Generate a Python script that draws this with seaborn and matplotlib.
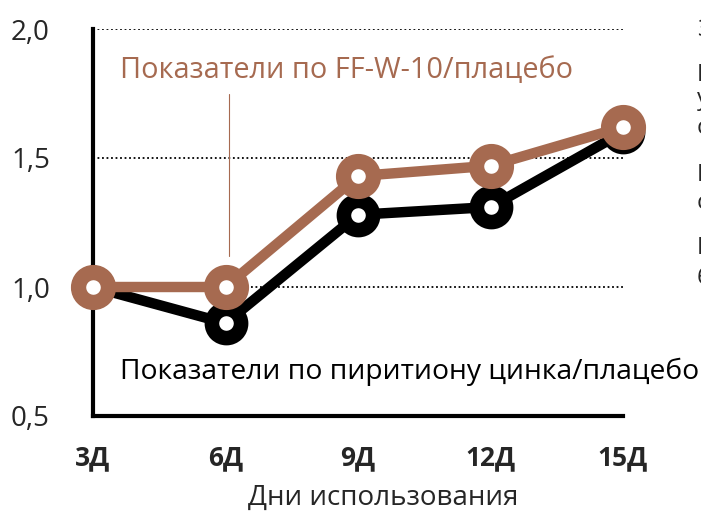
import pandas as pd
import matplotlib.pyplot as plt
import seaborn as sns

# данные
days = [3, 6, 9, 12, 15]
day_labels = ['3Д', '6Д', '9Д', '12Д', '15Д']
zinc = [1.0, 0.86, 1.28, 1.31, 1.60]
ffw10 = [1.0, 1.0, 1.43, 1.47, 1.62]
y_ticks = [0.5, 1.0, 1.5, 2.0]
y_labels = ['0,5', '1,0', '1,5', '2,0']
side_text = [('З', 30), ('Р', 75), ('у', 99), ('с', 128), ('Р', 175),
             ('с', 203), ('Н', 248), ('6', 278)]

brown = '#A66A50'

sns.set_style('white')
plt.rcParams['font.family'] = ['Open Sans', 'DejaVu Sans']

df = pd.DataFrame({'day': days + days,
                   'value': zinc + ffw10,
                   'series': ['zinc'] * 5 + ['ffw'] * 5})

fig = plt.figure(figsize=(7.01, 5.12), dpi=100)
ax = fig.add_axes([93 / 701, 1 - 416 / 512, 530 / 701, 387 / 512])

# сетка
for y in [1.0, 1.5, 2.0]:
    ax.axhline(y, color='black', lw=1.3, ls=(0, (1, 1.5)), zorder=1)

sns.lineplot(data=df[df.series == 'zinc'], x='day', y='value', ax=ax,
             color='black', lw=7.5, marker='o', markersize=21,
             markeredgewidth=10.5, markerfacecolor='white',
             markeredgecolor='black', clip_on=False, zorder=3)
sns.lineplot(data=df[df.series == 'ffw'], x='day', y='value', ax=ax,
             color=brown, lw=7.5, marker='o', markersize=21.5,
             markeredgewidth=11, markerfacecolor='white',
             markeredgecolor=brown, clip_on=False, zorder=4)

ax.set_xlim(3, 15)
ax.set_ylim(0.5, 2.0)
ax.set_xticks(days)
ax.set_xticklabels(day_labels, fontsize=19, fontweight='bold')
ax.set_yticks(y_ticks)
ax.set_yticklabels(y_labels, fontsize=20)
ax.tick_params(axis='x', direction='in', length=8, width=2.5, pad=20)
ax.tick_params(axis='y', length=0, pad=31)
ax.set_xlabel('')
ax.set_ylabel('')

for s in ['top', 'right']:
    ax.spines[s].set_visible(False)
for s in ['left', 'bottom']:
    ax.spines[s].set_linewidth(3)
    ax.spines[s].set_color('black')

# подписи
ax.plot([6.07, 6.07], [1.12, 1.75], color=brown, lw=0.8, zorder=2)
ax.text(3.61, 1.841, 'Показатели по FF-W-10/плацебо', color=brown,
        fontsize=20.8, va='center', ha='left')
ax.text(3.61, 0.671, 'Показатели по пиритиону цинка/плацебо', color='black',
        fontsize=20.3, va='center', ha='left', clip_on=False)

fig.text(383 / 701, 1 - 498 / 512, 'Дни использования', fontsize=20,
         ha='center', va='center')

for ch, ypx in side_text:
    fig.text(697 / 701, 1 - ypx / 512, ch, fontsize=17, ha='left', va='center')

fig.savefig('out.png', dpi=100)
